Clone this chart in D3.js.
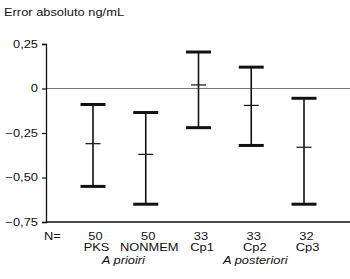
<!DOCTYPE html>
<html>
<head>
<meta charset="utf-8">
<script src="https://cdn.jsdelivr.net/npm/d3@7"></script>
<style>
  body { margin: 0; background: #fff; }
  text { font-family: "Liberation Sans", Arial, sans-serif; font-size: 10.3px; fill: #111; }
</style>
</head>
<body>
<div id="chart"></div>
<script>
// ── Data ──────────────────────────────────────────────────────────────────
const categories = ["PKS", "NONMEM", "Cp1", "Cp2", "Cp3"];
const counts     = [50, 50, 33, 33, 32];
const upper      = [-0.09, -0.135, 0.205, 0.12, -0.055];
const means      = [-0.31, -0.37, 0.02, -0.095, -0.33];
const lower      = [-0.55, -0.65, -0.22, -0.32, -0.65];
const groups     = ["A prioiri", "A prioiri", "A posteriori", "A posteriori", "A posteriori"];
const yTicks     = [0.25, 0, -0.25, -0.5, -0.75];
const yTitle     = "Error absoluto ng/mL";

const W = 350, H = 279;
const SX = 1.25; // text in the scan is stretched horizontally

const svg = d3.select("#chart").append("svg")
  .attr("width", W).attr("height", H);

const x = d3.scalePoint().domain(categories).range([93, 304]);
const y = d3.scaleLinear().domain([-0.75, 0.25]).range([222, 44]);
const axisX = 46;

const loc = d3.formatLocale({ decimal: ",", thousands: ".", grouping: [3], currency: ["", ""], minus: "\u2212" });
const fmt = v => v === 0 ? "0" : loc.format(".2f")(v);

// stretched text helper
function label(xp, yp, txt, anchor, italic) {
  svg.append("text")
    .attr("transform", `translate(${xp},${yp}) scale(${SX},1)`)
    .attr("text-anchor", anchor)
    .style("font-style", italic ? "italic" : "normal")
    .text(txt);
}

// zero reference line
svg.append("line")
  .attr("x1", axisX).attr("x2", W)
  .attr("y1", y(0)).attr("y2", y(0))
  .attr("stroke", "#777").attr("stroke-width", 1);

// Y axis
const yAxisG = svg.append("g")
  .attr("transform", `translate(${axisX},0)`)
  .call(d3.axisLeft(y).tickValues(yTicks).tickSize(4).tickFormat(""));
yAxisG.select("path.domain").attr("stroke", "#111").attr("stroke-width", 1.3);
yAxisG.selectAll(".tick line").attr("stroke", "#111").attr("stroke-width", 1.2);
yTicks.forEach(t => label(axisX - 8, y(t) + 3.6, fmt(t), "end", false));

// bottom line
svg.append("line")
  .attr("x1", axisX).attr("x2", W)
  .attr("y1", y(-0.75)).attr("y2", y(-0.75))
  .attr("stroke", "#111").attr("stroke-width", 1.5);

// title
label(4, 16, yTitle, "start", false);

// error bars
const capW = 12.5, meanW = 7.5;
categories.forEach((c, i) => {
  const cx = x(c);
  svg.append("line")
    .attr("x1", cx).attr("x2", cx)
    .attr("y1", y(upper[i])).attr("y2", y(lower[i]))
    .attr("stroke", "#111").attr("stroke-width", 1.6);
  [upper[i], lower[i]].forEach(v => {
    svg.append("line")
      .attr("x1", cx - capW).attr("x2", cx + capW)
      .attr("y1", y(v)).attr("y2", y(v))
      .attr("stroke", "#111").attr("stroke-width", 3);
  });
  svg.append("line")
    .attr("x1", cx - meanW).attr("x2", cx + meanW)
    .attr("y1", y(means[i])).attr("y2", y(means[i]))
    .attr("stroke", "#111").attr("stroke-width", 1.2);

  label(cx + 2.5, 239.5, counts[i], "middle", false);
  label(cx + 3.5, 250.5, c, "middle", false);
});

// N= label
label(44, 239.5, "N=", "start", false);

// group labels
d3.groups(categories.map((c, i) => ({ c, g: groups[i] })), d => d.g)
  .forEach(([g, recs]) => {
    const cx = d3.mean(recs, r => x(r.c));
    label(cx + 4, 264, g, "middle", true);
  });
</script>
</body>
</html>
